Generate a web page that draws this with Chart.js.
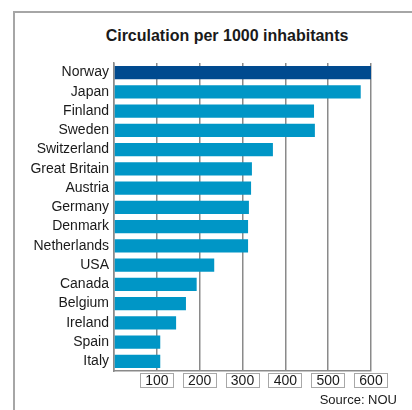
<!DOCTYPE html>
<html>
<head>
<meta charset="utf-8">
<script src="https://cdn.jsdelivr.net/npm/chart.js@4"></script>
<style>
  body { margin: 0; background: #fff; }
  #wrap { position: relative; width: 412px; height: 410px; overflow: hidden; font-family: "Liberation Sans", Arial, sans-serif; }
  #frame { position: absolute; left: 13px; top: 11px; width: 420px; height: 420px; border-left: 2px solid #a6a6a6; border-top: 2px solid #a6a6a6; }
  #title { position: absolute; left: 103px; width: 248px; top: 27px; text-align: center; font-weight: bold; font-size: 16px; color: #1a1a1a; white-space: nowrap; }
  #source { position: absolute; right: 15px; top: 392px; font-size: 13px; color: #1a1a1a; }
  canvas { position: absolute; left: 0; top: 0; }
</style>
</head>
<body>
<div id="wrap">
  <div id="frame"></div>
  <div id="title">Circulation per 1000 inhabitants</div>
  <canvas id="circulation" width="412" height="410"></canvas>
  <div id="source">Source: NOU</div>
</div>
<script>
// pays et tirage pour 1000 habitants
const countries = ["Norway", "Japan", "Finland", "Sweden", "Switzerland", "Great Britain", "Austria", "Germany",
  "Denmark", "Netherlands", "USA", "Canada", "Belgium", "Ireland", "Spain", "Italy"];
const circulation = [601, 576, 467, 469, 371, 322, 320, 315, 313, 313, 234, 193, 168, 145, 108, 108];
const tickValues = [0, 100, 200, 300, 400, 500, 600];

const barColors = countries.map((c, i) => (i === 0 ? "#004a8f" : "#0096c6"));

// petites boites autour des valeurs de l'axe x
const tickBoxes = {
  id: "tickBoxes",
  afterDraw(chart) {
    const ctx = chart.ctx;
    const x = chart.scales.x;
    ctx.save();
    ctx.strokeStyle = "#a8a8a8";
    ctx.lineWidth = 1;
    x.ticks.forEach((t) => {
      if (t.value === 0) return;
      const px = Math.round(x.getPixelForValue(t.value));
      ctx.strokeRect(px - 16.5, 373.5, 33, 14);
    });
    ctx.restore();
  },
};

const ctx = document.getElementById("circulation").getContext("2d");
const myChart = new Chart(ctx, {
  type: "bar",
  data: {
    labels: countries,
    datasets: [
      {
        data: circulation,
        backgroundColor: barColors,
        borderWidth: 0,
        barPercentage: 0.7,
        categoryPercentage: 1,
      },
    ],
  },
  options: {
    indexAxis: "y",
    responsive: false,
    animation: false,
    layout: { padding: { top: 63, right: 41, bottom: 19, left: 0 } },
    plugins: { legend: { display: false }, tooltip: { enabled: false } },
    scales: {
      x: {
        min: 0,
        max: 600,
        afterBuildTicks: (scale) => {
          scale.ticks = tickValues.map((v) => ({ value: v }));
        },
        afterFit: (scale) => {
          scale.height = 20;
        },
        grid: { color: "#8a8a8a", lineWidth: 1.5, drawTicks: false },
        border: { color: "#8a8a8a", width: 1.5 },
        ticks: {
          padding: 2,
          color: "#1a1a1a",
          font: { family: "'Liberation Sans', Arial, sans-serif", size: 14 },
          callback: (v) => (v === 0 ? "" : v),
        },
      },
      y: {
        afterFit: (scale) => {
          scale.width = 114;
        },
        grid: { display: false, drawTicks: false },
        border: { color: "#8a8a8a", width: 1.5 },
        ticks: {
          autoSkip: false,
          padding: 5,
          color: "#1a1a1a",
          font: { family: "'Liberation Sans', Arial, sans-serif", size: 14 },
        },
      },
    },
  },
  plugins: [tickBoxes],
});
</script>
</body>
</html>
